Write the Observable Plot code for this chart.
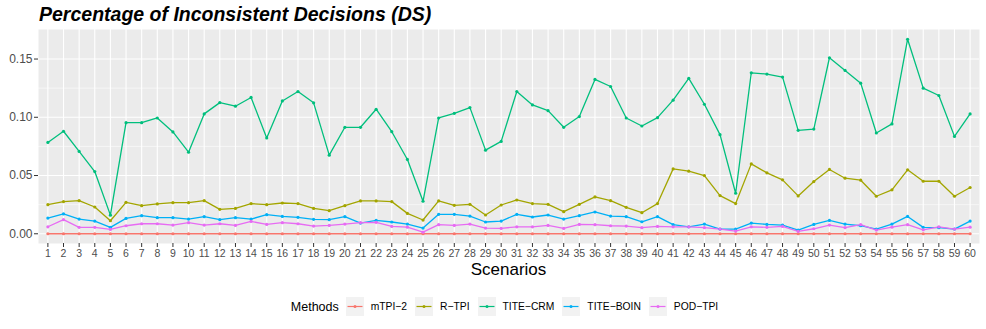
<!DOCTYPE html>
<html><head><meta charset="utf-8">
<script src="https://cdn.jsdelivr.net/npm/d3@7"></script>
<script src="https://cdn.jsdelivr.net/npm/@observablehq/plot@0.6"></script>
<style>
body{margin:0;background:#fff;font-family:"Liberation Sans",Arial,sans-serif;width:986px;height:329px;overflow:hidden;position:relative;}
#title{position:absolute;left:39px;top:4px;font-size:19.5px;line-height:20px;font-weight:bold;font-style:italic;color:#000;white-space:nowrap;}
#chart{position:absolute;left:0;top:28px;}
#xlab{position:absolute;left:0;width:1017px;text-align:center;top:261px;font-size:17px;line-height:17px;color:#000;}
#legend{position:absolute;left:0;width:1017px;top:297px;height:19px;display:flex;justify-content:center;align-items:center;font-size:10.3px;color:#000;}
#legend .ttl{font-size:12.5px;margin-right:7px;}
#legend .item{display:flex;align-items:center;margin-right:8px;}
#legend .item svg{margin-right:7px;}
</style>
</head><body>
<div id="title">Percentage of Inconsistent Decisions (DS)</div>
<div id="chart"></div>
<div id="xlab">Scenarios</div>
<div id="legend"></div>
<script>
const methods = ["mTPI-2", "R-TPI", "TITE-CRM", "TITE-BOIN", "POD-TPI"];
const colors = ["#F8766D", "#A3A500", "#00BF7D", "#00B0F6", "#E76BF3"];
const scenarios = d3.range(1, 61);
const yTicks = [0, 0.05, 0.10, 0.15];
const yMinor = [0.025, 0.075, 0.125];

const mTPI2 = Array(60).fill(0);
const RTPI = [0.025,0.0276,0.0284,0.023,0.0112,0.027,0.0241,0.0256,0.0267,0.0267,
  0.0284,0.021,0.0218,0.0259,0.025,0.0264,0.0259,0.0218,0.0198,0.0241,
  0.0282,0.0282,0.0276,0.0175,0.0118,0.0282,0.0244,0.0253,0.0161,0.0247,
  0.029,0.0259,0.0253,0.019,0.0253,0.0316,0.0284,0.0227,0.0181,0.0259,
  0.0557,0.0537,0.05,0.0328,0.0259,0.06,0.0523,0.0463,0.0325,0.0448,
  0.0552,0.0477,0.046,0.0322,0.0377,0.0549,0.0451,0.0451,0.0322,0.0397];
const TITECRM = [0.0784,0.088,0.0707,0.0534,0.016,0.0954,0.0954,0.0994,0.0874,0.070,
  0.1029,0.1126,0.1095,0.117,0.0822,0.114,0.1221,0.1124,0.0675,0.0914,
  0.0914,0.1069,0.0876,0.0638,0.0279,0.0994,0.1034,0.1083,0.0718,0.0793,
  0.1221,0.1106,0.1057,0.0914,0.1006,0.1325,0.1264,0.0994,0.0925,0.0997,
  0.1147,0.1334,0.1112,0.0851,0.0348,0.1382,0.1371,0.1345,0.0888,0.0899,
  0.1511,0.1402,0.1293,0.0865,0.0943,0.167,0.125,0.1187,0.0836,0.1029];
const TITEBOIN = [0.0135,0.017,0.0126,0.0109,0.0055,0.0132,0.0155,0.0138,0.0138,0.0126,
  0.0147,0.0121,0.0138,0.0126,0.0164,0.0149,0.0141,0.0124,0.0121,0.0147,
  0.0092,0.0115,0.0101,0.0083,0.0049,0.0167,0.0167,0.0152,0.0101,0.0109,
  0.0167,0.0144,0.0161,0.0126,0.0155,0.0187,0.0152,0.0147,0.0103,0.0147,
  0.0078,0.006,0.0083,0.004,0.004,0.0092,0.008,0.0075,0.0032,0.008,
  0.0115,0.0083,0.0069,0.004,0.0083,0.0149,0.0055,0.0052,0.004,0.0109];
const PODTPI = [0.006,0.0121,0.0055,0.0055,0.0037,0.0069,0.0086,0.0086,0.0075,0.0095,
  0.0075,0.0086,0.0072,0.0106,0.008,0.0095,0.0086,0.0066,0.0072,0.0083,
  0.0095,0.0098,0.0063,0.0057,0.0014,0.0078,0.0072,0.0083,0.0049,0.0046,
  0.006,0.006,0.0072,0.0046,0.008,0.0078,0.0069,0.0066,0.0052,0.0063,
  0.006,0.006,0.0052,0.004,0.0023,0.006,0.0055,0.0063,0.002,0.0043,
  0.0075,0.0052,0.0078,0.0032,0.0057,0.0078,0.0034,0.006,0.004,0.0057];

const series = [mTPI2, RTPI, TITECRM, TITEBOIN, PODTPI];
const data = [];
methods.forEach((m, i) => series[i].forEach((v, j) => data.push({method: m, scenario: scenarios[j], value: v})));

const yMax = d3.max(data, d => d.value), yMin = 0;
const pad = (yMax - yMin) * 0.05;

const chart = Plot.plot({
  width: 986, height: 254,
  marginLeft: 38, marginRight: 7, marginTop: 1, marginBottom: 39,
  style: {fontFamily: "'Liberation Sans', Arial, sans-serif", background: "transparent"},
  x: {type: "linear", domain: [0.4, 60.6]},
  y: {domain: [yMin - pad, yMax + pad]},
  color: {domain: methods, range: colors},
  marks: [
    Plot.frame({fill: "#EBEBEB", stroke: "none"}),
    Plot.ruleY(yMinor, {stroke: "#fff", strokeWidth: 0.55}),
    Plot.ruleY(yTicks, {stroke: "#fff", strokeWidth: 1.1}),
    Plot.ruleX(scenarios, {stroke: "#fff", strokeWidth: 1.1}),
    Plot.axisY({ticks: yTicks, tickFormat: d3.format(".2f"), tickSize: 4, tickPadding: 2, fontSize: 12, fill: "#4D4D4D", stroke: "#333", label: null}),
    Plot.axisX({ticks: scenarios, tickFormat: d => String(d), tickSize: 4, tickPadding: 2, fontSize: 10.5, fill: "#4D4D4D", stroke: "#333", label: null}),
    Plot.line(data, {x: "scenario", y: "value", stroke: "method", z: "method", strokeWidth: 1.3}),
    Plot.dot(data, {x: "scenario", y: "value", fill: "method", r: 1.6})
  ]
});
document.getElementById("chart").appendChild(chart);

const leg = document.getElementById("legend");
const t = document.createElement("span"); t.className = "ttl"; t.textContent = "Methods"; leg.appendChild(t);
methods.forEach((m, i) => {
  const it = document.createElement("span"); it.className = "item";
  it.innerHTML = `<svg width="18" height="19"><rect width="18" height="19" fill="#F2F2F2"/><line x1="1.5" x2="16.5" y1="9.5" y2="9.5" stroke="${colors[i]}" stroke-width="1.2"/><circle cx="9" cy="9.5" r="1.5" fill="${colors[i]}"/></svg>`;
  const s = document.createElement("span"); s.textContent = m.replace("-", "\u2212"); it.appendChild(s);
  leg.appendChild(it);
});
</script>
</body></html>
